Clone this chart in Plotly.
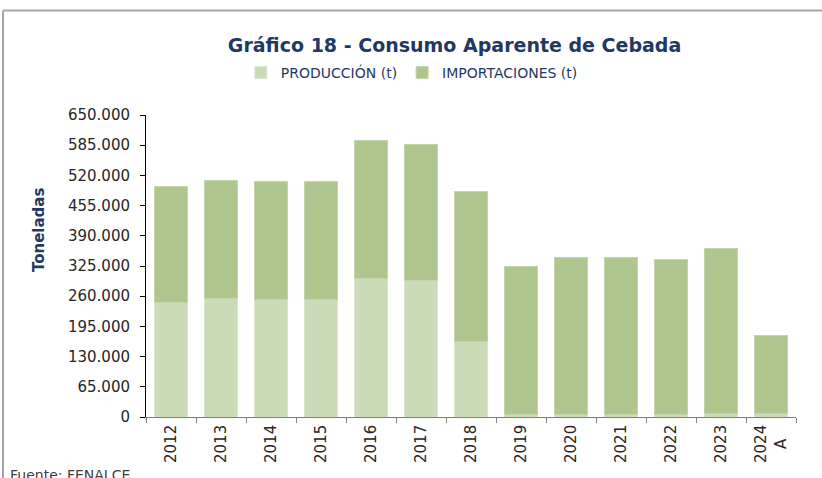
import plotly.graph_objects as go

years = ["2012", "2013", "2014", "2015", "2016", "2017", "2018",
         "2019", "2020", "2021", "2022", "2023", "2024<br>A"]
totals = [495400, 508900, 506700, 507400, 594300, 586300, 484600,
          323400, 342700, 342700, 339000, 362000, 175000]
produccion = [247300, 254500, 253000, 253000, 297500, 293900, 162700,
              5800, 5800, 5800, 5800, 8600, 8600]
importaciones = [t - p for t, p in zip(totals, produccion)]

y_ticks = [0, 65000, 130000, 195000, 260000, 325000, 390000, 455000, 520000, 585000, 650000]

navy = "#1F3864"
font_family = "DejaVu Sans"

fig = go.Figure()
fig.add_trace(go.Bar(x=years, y=produccion, name="PRODUCCIÓN (t)",
                     marker=dict(color="#CCDBB7", line=dict(color="#DDE7D0", width=1))))
fig.add_trace(go.Bar(x=years, y=importaciones, name="IMPORTACIONES (t)",
                     marker=dict(color="#AFC68E", line=dict(color="#C4D5AC", width=1))))

fig.update_layout(
    barmode="stack",
    bargap=0.34,
    width=822, height=478,
    margin=dict(l=146, r=26, t=115, b=61, autoexpand=False),
    paper_bgcolor="white", plot_bgcolor="white",
    separators=",.",
    font=dict(family=font_family, color="#262626"),
    title=dict(text="<b>Gráfico 18 - Consumo Aparente de Cebada</b>",
               x=0.553, xanchor="center", xref="container",
               y=1 - 45 / 478, yanchor="middle", yref="container",
               font=dict(size=19, color=navy, family=font_family)),
    legend=dict(orientation="h", x=0.409, xanchor="center", y=1.139, yanchor="middle",
                font=dict(size=14, color=navy), traceorder="normal",
                itemwidth=30, bgcolor="rgba(0,0,0,0)"),
    showlegend=True,
)

fig.update_yaxes(range=[0, 650000], tickvals=y_ticks, tickformat=",.0f",
                 showgrid=False, showline=True, linecolor="black", linewidth=1,
                 ticks="outside", ticklen=5, tickcolor="black", automargin=False,
                 ticklabelstandoff=7,
                 tickfont=dict(size=15, color="#262626"), zeroline=False)
fig.update_xaxes(type="category", range=[-0.5, len(years) - 0.5],
                 showline=True, linecolor="#7F7F7F", linewidth=1,
                 ticks="outside", tickson="boundaries", ticklen=5, tickcolor="#7F7F7F",
                 showticklabels=False, automargin=False, showgrid=False)

for i, yr in enumerate(years):
    fig.add_annotation(text=yr, x=i, xref="x", y=-6 / 302, yref="paper",
                       xanchor="center", yanchor="top", textangle=-90, align="center",
                       showarrow=False, font=dict(size=15, color="#262626"))

fig.add_annotation(text="<b>Toneladas</b>", xref="paper", yref="paper",
                   x=-0.1815, y=0.619, textangle=-90, showarrow=False,
                   font=dict(size=15, color=navy))
fig.add_annotation(text="Fuente: FENALCE", xref="paper", yref="paper",
                   x=-0.2123, xanchor="left", y=-0.159, yanchor="top", showarrow=False,
                   font=dict(size=14, color="#404040"))

# outer border (gray frame)
fig.add_shape(type="line", xref="paper", yref="paper", x0=-0.22, x1=1.06, y0=1.346, y1=1.346,
              line=dict(color="#A6A6A6", width=2))
fig.add_shape(type="line", xref="paper", yref="paper", x0=-0.22, x1=-0.22, y0=1.346, y1=-0.3,
              line=dict(color="#A6A6A6", width=2))

fig.write_html("out.html", config={"displayModeBar": False},
               post_script="document.body.style.margin='0';")
